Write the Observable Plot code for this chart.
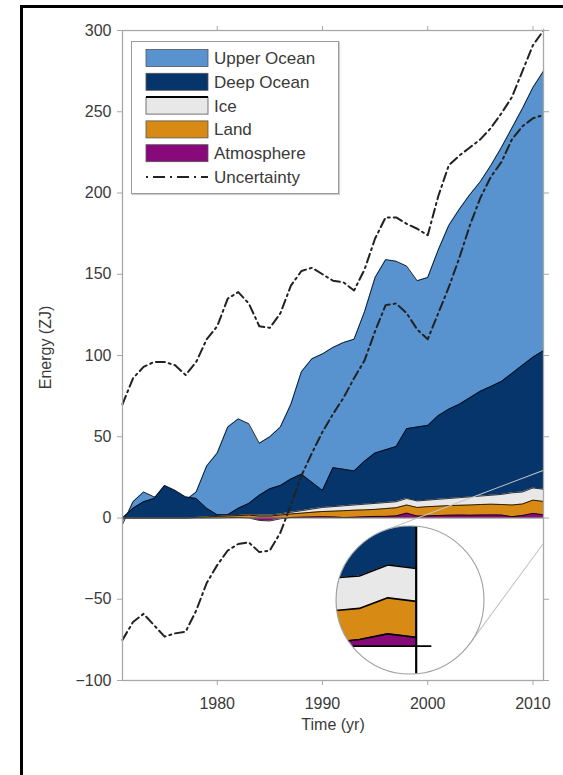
<!DOCTYPE html>
<html>
<head>
<meta charset="utf-8">
<script src="https://cdn.jsdelivr.net/npm/d3@7"></script>
<script src="https://cdn.jsdelivr.net/npm/@observablehq/plot@0.6"></script>
<style>
html, body { margin: 0; padding: 0; background: #fff; overflow: hidden; }
#wrap { position: relative; width: 563px; height: 775px; overflow: hidden; background: #fff;
  font-family: "Liberation Sans", Arial, Helvetica, sans-serif; }
#border { position: absolute; left: 20px; top: 5px; width: 620px; height: 820px;
  border-left: 3px solid #000; border-top: 3px solid #000; box-sizing: border-box; }
#main { position: absolute; left: 0; top: 0; }
#overlay { position: absolute; left: 0; top: 0; pointer-events: none; }
#inset { position: absolute; background: #fff; overflow: hidden; }
#ring { position: absolute; left: 0; top: 0; pointer-events: none; }
#legend { position: absolute; background: #fff; border: 1px solid #9a9a9a;
  box-shadow: 1px 1px 1px #d0d0d0; }
</style>
</head>
<body>
<div id="wrap"><div id="border"></div></div>
<script>
// ---------------- data (ZJ, relative to 1971) ----------------
const years = [1971,1972,1973,1974,1975,1976,1977,1978,1979,1980,
               1981,1982,1983,1984,1985,1986,1987,1988,1989,1990,
               1991,1992,1993,1994,1995,1996,1997,1998,1999,2000,
               2001,2002,2003,2004,2005,2006,2007,2008,2009,2010,
               2011];
const upperOcean = [-4,4,6,1,-8,-7,-2,4,26,38,
                    54,55,49,32,32,36,46,63,76,84,
                    74,78,81,92,108,117,114,100,90,91,
                    102,113,120,125,129,136,144,151,158,166,
                    172];
const deepOcean = [0,6,10,12,20,17,13,11.7,5.4,1.0,
                   0.7,4.4,7.0,12.2,16.2,17.5,20.5,22.5,16.5,10.5,
                   24.0,22.5,21.0,26.5,31.0,32.5,34.0,43.0,45.5,46.0,
                   51.5,55.0,57.5,61.0,64.5,67.0,69.5,73.5,78.0,80.5,
                   85.3];
const ice = [0,0,0,0,0,0,0,0,0,0,
             0.1,0.1,0.2,0.6,0.6,0.7,1.0,1.5,2.0,2.5,
             2.8,3.0,3.2,3.5,3.7,3.7,3.7,4.0,4.0,4.0,
             4.2,4.4,4.7,5.0,5.2,5.5,6.2,7.5,7.4,7.5,
             7.5];
const land = [0,0,0,0,0,0,0,0.3,0.6,1.0,
              1.0,1.2,1.8,2.7,3.0,2.3,2.2,2.5,2.9,3.3,
              3.6,4.2,4.4,4.3,4.3,4.8,5.0,5.0,5.3,5.7,
              5.8,5.9,6.0,6.3,6.5,6.6,6.5,7.2,7.1,8.2,
              8.2];
const atmosphere = [0,0,0,0,0,0,0,0,0,0,
                    0.2,0.3,0,-1.5,-1.8,-0.5,0.3,0.5,0.6,0.7,
                    0.6,0.3,0.4,0.7,1.0,1.0,1.3,3.0,1.2,1.3,
                    1.5,1.7,1.8,1.7,1.8,1.9,1.8,0.8,1.5,2.8,
                    2.0];
const uncertaintyHigh = [70,86,93,96,96,94,88,96,110,118,
                         135,139,132,118,117,126,143,152,154,150,
                         146,145,140,153,172,185,185,181,178,174,
                         198,217,223,228,233,240,249,259,275,291,
                         300];
const uncertaintyLow = [-75,-64,-59,-66,-73,-71,-70,-57,-40,-29,
                        -20,-16,-15,-21,-20,-9,8,26,40,53,
                        64,74,86,97,115,131,132,126,116,110,
                        126,142,160,180,197,210,219,233,241,246,
                        248];

const seriesNames = ["Upper Ocean", "Deep Ocean", "Ice", "Land", "Atmosphere"];
const seriesColors = ["#5893cf", "#05356b", "#e8e8e8", "#d78a14", "#88097a"];
const uncertaintyLabel = "Uncertainty";
const xTicks = [1980, 1990, 2000, 2010];
const yTicks = [-100, -50, 0, 50, 100, 150, 200, 250, 300];
const xLabel = "Time (yr)";
const yLabel = "Energy (ZJ)";

// ---------------- derived table: cumulative levels ----------------
const table = years.map((year, i) => {
  const a = atmosphere[i];
  const l = a + land[i];
  const c = l + ice[i];
  const d = c + deepOcean[i];
  const u = d + upperOcean[i];
  return {year, lvl0: u, lvl1: d, lvl2: c, lvl3: l, lvl4: a,
          hi: uncertaintyHigh[i], lo: uncertaintyLow[i]};
});
const levelKeys = ["lvl0", "lvl1", "lvl2", "lvl3", "lvl4"];

const FONT = '"Liberation Sans", Arial, Helvetica, sans-serif';
const TXT = "#3a3a3a";
const AX = "#a8a8a8";
const fmt = d3.format("d");

function layerMarks(strokeW) {
  const m = [];
  levelKeys.forEach((k, j) => {
    m.push(Plot.areaY(table, {x: "year", y1: () => 0, y2: k, fill: seriesColors[j]}));
    m.push(Plot.lineY(table, {x: "year", y: k, stroke: "#000", strokeWidth: strokeW}));
  });
  return m;
}

// ---------------- main chart ----------------
const W = 563, H = 775;
const main = Plot.plot({
  width: W, height: H,
  marginLeft: 122, marginRight: 20, marginTop: 30, marginBottom: 95,
  style: {fontFamily: FONT, fontSize: "16px", background: "transparent", color: TXT},
  x: {domain: [years[0], years[years.length - 1]]},
  y: {domain: [yTicks[0], yTicks[yTicks.length - 1]]},
  marks: [
    ...layerMarks(0.8),
    Plot.ruleY([0], {stroke: "#777", strokeWidth: 1}),
    Plot.lineY(table, {x: "year", y: "hi", stroke: "#222", strokeWidth: 2, strokeDasharray: "9,4,2,4"}),
    Plot.lineY(table, {x: "year", y: "lo", stroke: "#222", strokeWidth: 2, strokeDasharray: "9,4,2,4"}),
    Plot.frame({stroke: AX, strokeWidth: 1.3}),
    Plot.axisX({anchor: "bottom", ticks: xTicks, tickFormat: fmt, tickSize: 5, tickPadding: 12,
                stroke: AX, fill: TXT, label: null, fontSize: 16}),
    Plot.axisX({anchor: "top", ticks: xTicks, tickFormat: () => "", tickSize: 5,
                stroke: AX, label: null}),
    Plot.axisY({anchor: "left", ticks: yTicks, tickFormat: fmt, tickSize: 5, tickPadding: 6,
                stroke: AX, fill: TXT, label: null, fontSize: 16}),
    Plot.axisY({anchor: "right", ticks: yTicks, tickFormat: () => "", tickSize: 5,
                stroke: AX, label: null}),
    Plot.text([yLabel], {text: d => d, frameAnchor: "left", textAnchor: "middle",
                         dx: -77, dy: -8, rotate: -90, fontSize: 16, fill: TXT}),
    Plot.text([xLabel], {text: d => d, frameAnchor: "bottom", dy: 49,
                         fontSize: 16, fill: TXT})
  ]
});
main.id = "main";
const wrap = document.getElementById("wrap");
wrap.appendChild(main);

// ---------------- magnifier inset ----------------
const sx = main.scale("x"), sy = main.scale("y");
const kx = Math.abs(sx.range[1] - sx.range[0]) / Math.abs(sx.domain[1] - sx.domain[0]);
const ky = Math.abs(sy.range[1] - sy.range[0]) / Math.abs(sy.domain[1] - sy.domain[0]);
const R = 74, mag = 2.7, cx = 410, cy = 600;       // inset layout (pixels)
const fx = years[years.length - 1] - 0.2, fy = 10.4; // magnified spot (data)
const hx = R / (kx * mag), hy = R / (ky * mag);
const lastYear = years[years.length - 1];

// connector lines (computed from the inset geometry)
const px = sx.apply(fx), py = sy.apply(fy), r2 = R / mag;
const dxv = px - cx, dyv = py - cy, dist = Math.hypot(dxv, dyv);
const ux = dxv / dist, uy = dyv / dist;
const phi = Math.acos((R - r2) / dist);
const xRight = sx.range[1];
const overlay = d3.create("svg").attr("id", "overlay").attr("width", W).attr("height", H);
[phi, -phi].forEach(ang => {
  const nx = ux * Math.cos(ang) - uy * Math.sin(ang);
  const ny = ux * Math.sin(ang) + uy * Math.cos(ang);
  const tx0 = cx + R * nx, ty0 = cy + R * ny;
  let tdx = -ny, tdy = nx;
  if (tdx * ux + tdy * uy < 0) { tdx = -tdx; tdy = -tdy; }
  const s = (xRight - tx0) / tdx;
  overlay.append("line")
    .attr("x1", tx0).attr("y1", ty0)
    .attr("x2", tx0 + s * tdx).attr("y2", ty0 + s * tdy)
    .attr("stroke", "#c4c4c4").attr("stroke-width", 1.1);
});
wrap.appendChild(overlay.node());

const inset = Plot.plot({
  width: 2 * R, height: 2 * R,
  margin: 0,
  style: {background: "#fff"},
  x: {domain: [fx - hx, fx + hx], axis: null},
  y: {domain: [fy - hy, fy + hy], axis: null},
  marks: [
    ...layerMarks(1.6),
    Plot.ruleX([lastYear], {stroke: "#000", strokeWidth: 2.2}),
    Plot.ruleY([0], {x1: () => fx - hx, x2: () => lastYear + 0.55, stroke: "#000", strokeWidth: 1.8})
  ]
});
const insetDiv = document.createElement("div");
insetDiv.id = "inset";
insetDiv.style.left = (cx - R) + "px";
insetDiv.style.top = (cy - R) + "px";
insetDiv.style.width = (2 * R) + "px";
insetDiv.style.height = (2 * R) + "px";
insetDiv.style.clipPath = `circle(${R}px at ${R}px ${R}px)`;
insetDiv.appendChild(inset);
wrap.appendChild(insetDiv);

const ring = d3.create("svg").attr("id", "ring").attr("width", W).attr("height", H);
ring.append("circle").attr("cx", cx).attr("cy", cy).attr("r", R)
  .attr("fill", "none").attr("stroke", "#a0a0a0").attr("stroke-width", 1.1);
wrap.appendChild(ring.node());

// ---------------- legend ----------------
const legX = 131, legY = 41, legW = 206, legH = 151, rowH = 23.8, row0 = 16;
const leg = d3.create("svg").attr("id", "legend")
  .attr("width", legW).attr("height", legH)
  .style("left", legX + "px").style("top", legY + "px");
const entries = seriesNames.map((n, i) => ({name: n, color: seriesColors[i]}))
  .concat([{name: uncertaintyLabel, color: null}]);
entries.forEach((e, i) => {
  const yc = row0 + i * rowH;
  const g = leg.append("g");
  if (e.color) {
    g.append("rect").attr("x", 14).attr("y", yc - 8.5).attr("width", 62).attr("height", 17)
      .attr("fill", e.color).attr("stroke", "#555").attr("stroke-width", 0.8);
    if (e.name === "Ice") {
      g.append("line").attr("x1", 14).attr("x2", 76).attr("y1", yc - 8.5).attr("y2", yc - 8.5)
        .attr("stroke", "#000").attr("stroke-width", 2);
    }
  } else {
    g.append("line").attr("x1", 14).attr("x2", 76).attr("y1", yc).attr("y2", yc)
      .attr("stroke", "#222").attr("stroke-width", 2).attr("stroke-dasharray", "2,5,12,5");
  }
  g.append("text").attr("x", 82).attr("y", yc).attr("dy", "0.35em")
    .attr("font-family", FONT).attr("font-size", 17).attr("fill", TXT).text(e.name);
});
wrap.appendChild(leg.node());
</script>
</body>
</html>
